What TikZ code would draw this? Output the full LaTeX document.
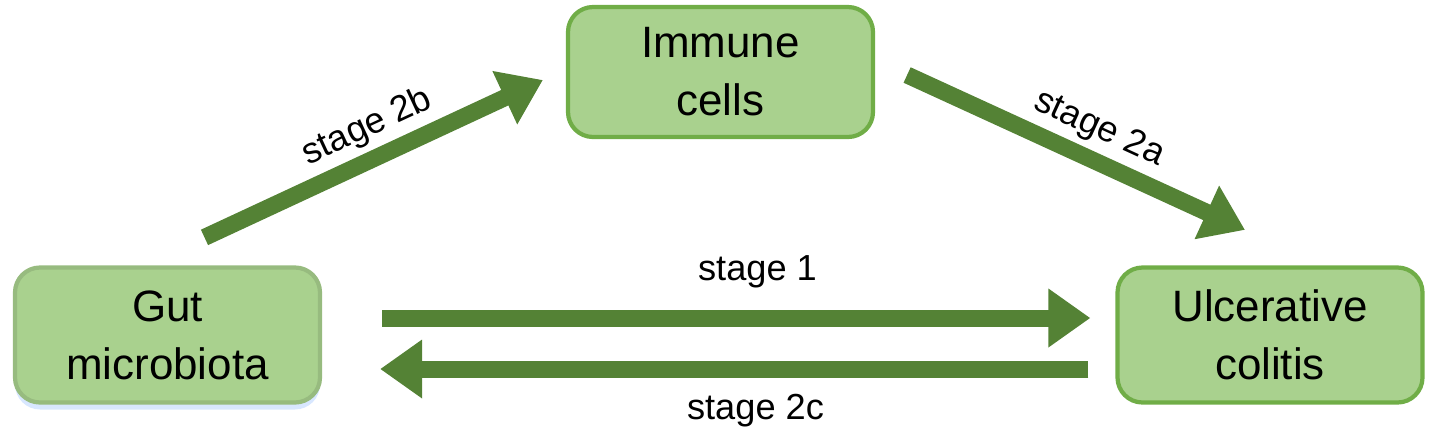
\documentclass[tikz,border=0pt]{standalone}
\usepackage{fontspec}
\setmainfont{Liberation Sans}
\usetikzlibrary{arrows.meta}
\usetikzlibrary{shadows}
\definecolor{boxfill}{HTML}{A9D18E}
\definecolor{boxline}{HTML}{70AD47}
\definecolor{arrowgreen}{HTML}{548235}

\begin{document}
\begin{tikzpicture}[scale = 1,
	box/.style={rounded corners=2.5mm, fill=boxfill, draw=boxline, line width=1.2pt, minimum width=3.05cm, minimum height=1.35cm, align=center, inner sep=0pt, font=\fontsize{12.5}{16.5}\selectfont},
	flow/.style={line width=1.7mm, draw=arrowgreen, -{Triangle[length=4.2mm, width=5.6mm]}},
	stagelabel/.style={font=\fontsize{10.3}{12}\selectfont}]
	\useasboundingbox (0,0) rectangle (14.29,4.29);

	\node[box, draw=boxfill!85!black!70!boxfill, drop shadow={shadow xshift=0pt, shadow yshift=-0.7mm, fill=blue!60!cyan!70, opacity=0.22}] (gut) at (1.675,0.94) {Gut\\microbiota};
	\node[box, minimum height=1.3cm] (immune) at (7.205,3.57) {Immune\\cells};
	\node[box] (uc) at (12.7,0.94) {Ulcerative\\colitis};

	\draw[flow] ([shift={(0.6,0.17)}]gut.east) -- node[stagelabel, pos=0.53, above=1mm] {stage 1} ([shift={(-0.25,0.17)}]uc.west);
	\draw[flow] ([shift={(-0.27,-0.34)}]uc.west) -- node[stagelabel, pos=0.47, below=0.5mm] {stage 2c} ([shift={(0.58,-0.34)}]gut.east);
	\draw[flow] ([shift={(0.37,0.28)}]gut.north) -- node[stagelabel, sloped, pos=0.52, above=-0.6mm] {stage 2b} ([shift={(-0.23,-0.08)}]immune.west);
	\draw[flow] ([shift={(0.32,-0.03)}]immune.east) -- node[stagelabel, sloped, pos=0.53, above=-0.6mm] {stage 2a} ([shift={(-0.25,0.355)}]uc.north);
\end{tikzpicture}
\end{document}
